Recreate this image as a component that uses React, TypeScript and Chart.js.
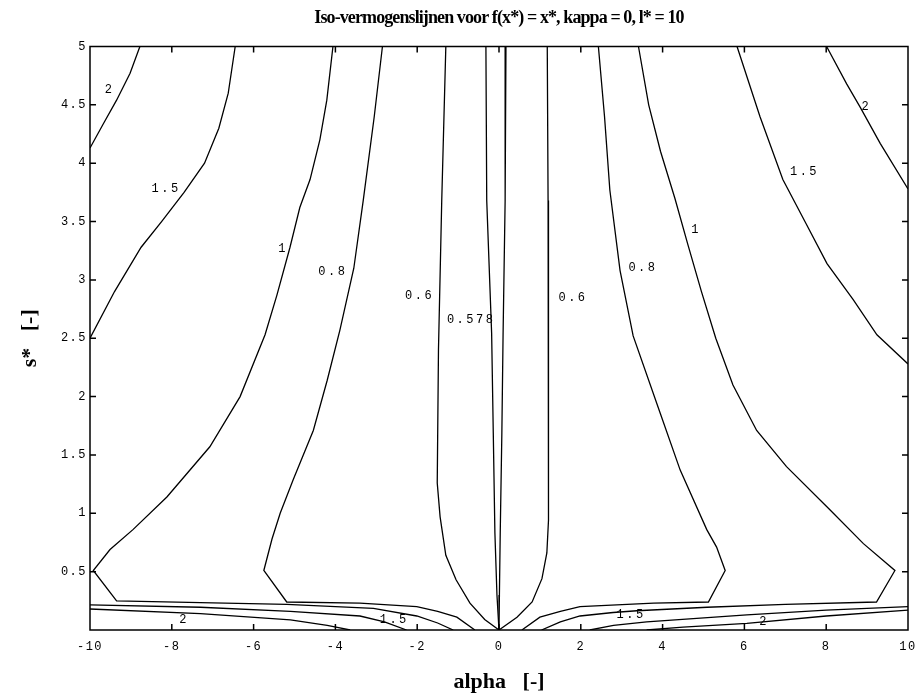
import React, { useEffect, useRef } from 'react';
import { Chart, registerables } from 'chart.js';

Chart.register(...registerables);

// ---- text ----
const TITLE = 'Iso-vermogenslijnen voor f(x*) = x*, kappa = 0, l* = 10';
const X_LABEL = 'alpha   [-]';
const Y_LABEL = 's*   [-]';

// ---- axes ----
const X_MIN = -10;
const X_MAX = 10;
const X_STEP = 2;
const Y_MIN = 0;
const Y_MAX = 5;
const Y_STEP = 0.5;

// ---- contour lines (alpha, s*) ----
const L2_TOP_X = [-8.78, -9.02, -9.35, -9.67, -10.0];
const L2_TOP_Y = [5.0, 4.77, 4.54, 4.34, 4.13];

const L15_TOP_X = [-6.45, -6.62, -6.85, -7.2, -7.7, -8.25, -8.75, -9.4, -10.0];
const L15_TOP_Y = [5.0, 4.6, 4.3, 4.0, 3.75, 3.5, 3.28, 2.9, 2.5];

const L1_X = [-4.06, -4.21, -4.38, -4.62, -4.87, -5.11, -5.43, -5.72, -6.33, -7.07, -8.12, -8.95, -9.51, -9.92, -9.35, -7.3, -5.19, -3.07, -2.01, -1.5, -1.12];
const L1_Y = [5.0, 4.54, 4.2, 3.86, 3.62, 3.28, 2.87, 2.53, 2.0, 1.57, 1.14, 0.86, 0.69, 0.51, 0.25, 0.235, 0.22, 0.185, 0.12, 0.06, 0.0];

const L08_X = [-2.85, -3.05, -3.32, -3.55, -3.89, -4.2, -4.54, -5.03, -5.35, -5.55, -5.75, -5.19, -3.4, -2.01, -1.5, -1.03, -0.59];
const L08_Y = [5.0, 4.4, 3.68, 3.1, 2.57, 2.14, 1.71, 1.29, 1.0, 0.78, 0.51, 0.24, 0.23, 0.2, 0.16, 0.11, 0.0];

const L06_X = [-1.3, -1.4, -1.48, -1.51, -1.44, -1.3, -1.05, -0.71, -0.35, 0.0];
const L06_Y = [5.0, 3.68, 2.4, 1.26, 0.97, 0.64, 0.43, 0.23, 0.09, 0.0];

const L0578_X = [-0.32, -0.3, -0.18, -0.14, -0.1, -0.05, 0.0];
const L0578_Y = [5.0, 3.68, 2.54, 1.69, 0.83, 0.3, 0.0];

const R0578_X = [0.17, 0.15, 0.1, 0.07, 0.03, 0.01, 0.0];
const R0578_Y = [5.0, 3.68, 2.54, 1.69, 0.83, 0.3, 0.0];

const R06_X = [1.18, 1.2, 1.21, 1.21, 1.17, 1.05, 0.81, 0.44, 0.0];
const R06_Y = [5.0, 3.68, 2.0, 0.94, 0.66, 0.44, 0.24, 0.11, 0.0];

const R08_X = [2.43, 2.58, 2.71, 2.96, 3.28, 3.94, 4.43, 5.08, 5.32, 5.53, 5.12, 3.78, 1.98, 1.5, 1.0, 0.56];
const R08_Y = [5.0, 4.4, 3.77, 3.08, 2.52, 1.86, 1.37, 0.86, 0.71, 0.51, 0.24, 0.23, 0.2, 0.16, 0.11, 0.0];

const R1_X = [3.41, 3.66, 3.95, 4.3, 4.62, 4.95, 5.3, 5.72, 6.3, 7.03, 8.09, 8.91, 9.68, 9.23, 7.0, 5.09, 3.37, 2.79, 1.98, 1.5, 1.04];
const R1_Y = [5.0, 4.5, 4.1, 3.7, 3.3, 2.9, 2.5, 2.1, 1.71, 1.4, 1.03, 0.74, 0.51, 0.24, 0.22, 0.195, 0.165, 0.15, 0.12, 0.07, 0.0];

const R15_TOP_X = [5.82, 6.1, 6.38, 6.94, 7.48, 8.02, 8.66, 9.24, 10.0];
const R15_TOP_Y = [5.0, 4.7, 4.4, 3.86, 3.5, 3.14, 2.83, 2.53, 2.28];

const R2_TOP_X = [8.01, 8.5, 8.83, 9.32, 10.0];
const R2_TOP_Y = [5.0, 4.68, 4.48, 4.17, 3.78];

const L15_BOT_X = [-10.0, -7.3, -5.1, -3.4, -2.8, -2.26];
const L15_BOT_Y = [0.215, 0.195, 0.16, 0.12, 0.07, 0.0];

const L2_BOT_X = [-10.0, -7.3, -5.1, -4.2, -3.64];
const L2_BOT_Y = [0.18, 0.14, 0.086, 0.04, 0.0];

const R15_BOT_X = [2.22, 2.8, 3.61, 6.06, 8.0, 10.0];
const R15_BOT_Y = [0.0, 0.04, 0.07, 0.13, 0.17, 0.2];

const R2_BOT_X = [3.61, 4.5, 6.06, 8.0, 10.0];
const R2_BOT_Y = [0.0, 0.025, 0.057, 0.12, 0.17];

// ---- contour labels ----
const CLABEL_TEXT = ['2', '1.5', '1', '0.8', '0.6', '0.578', '0.6', '0.8', '1', '1.5', '2', '2', '1.5', '1.5', '2'];
const CLABEL_X = [-9.55, -8.17, -5.31, -4.09, -1.97, -0.71, 1.78, 3.49, 4.79, 7.44, 8.95, -7.73, -2.59, 3.2, 6.45];
const CLABEL_Y = [4.63, 3.78, 3.27, 3.07, 2.86, 2.66, 2.85, 3.1, 3.43, 3.93, 4.48, 0.086, 0.086, 0.13, 0.07];

const LINES: number[][][] = [
  [L2_TOP_X, L2_TOP_Y],
  [L15_TOP_X, L15_TOP_Y],
  [L1_X, L1_Y],
  [L08_X, L08_Y],
  [L06_X, L06_Y],
  [L0578_X, L0578_Y],
  [R0578_X, R0578_Y],
  [R06_X, R06_Y],
  [R08_X, R08_Y],
  [R1_X, R1_Y],
  [R15_TOP_X, R15_TOP_Y],
  [R2_TOP_X, R2_TOP_Y],
  [L15_BOT_X, L15_BOT_Y],
  [L2_BOT_X, L2_BOT_Y],
  [R15_BOT_X, R15_BOT_Y],
  [R2_BOT_X, R2_BOT_Y],
];

const MONO = '"Liberation Mono", "DejaVu Sans Mono", monospace';
const SERIF = '"Liberation Serif", "DejaVu Serif", serif';

const spacingPlugin = {
  id: 'textSpacing',
  beforeDraw(chart: any) {
    for (const id of ['x', 'y']) {
      const s: any = chart.scales[id];
      if (s && !s.__spaced) {
        const orig = s.drawLabels;
        s.drawLabels = function (area: any) {
          const c = this.ctx;
          c.save();
          c.letterSpacing = '1.5px';
          orig.call(this, area);
          c.restore();
        };
        s.__spaced = true;
      }
    }
    const tb: any = chart.titleBlock;
    if (tb && !tb.__spaced) {
      const o = tb.draw;
      tb.draw = function (...args: any[]) {
        const c = this.ctx;
        c.save();
        c.letterSpacing = '-0.9px';
        o.apply(this, args);
        c.restore();
      };
      tb.__spaced = true;
    }
  },
};

const framePlugin = {
  id: 'frame',
  afterDatasetsDraw(chart: any) {
    const { ctx, chartArea: a, scales } = chart;
    ctx.save();
    ctx.strokeStyle = '#000';
    ctx.lineWidth = 1.5;
    ctx.strokeRect(a.left, a.top, a.right - a.left, a.bottom - a.top);
    const len = 6;
    ctx.beginPath();
    for (const t of scales.x.ticks) {
      if (t.value <= X_MIN || t.value >= X_MAX) continue;
      const px = scales.x.getPixelForValue(t.value);
      ctx.moveTo(px, a.bottom);
      ctx.lineTo(px, a.bottom - len);
      ctx.moveTo(px, a.top);
      ctx.lineTo(px, a.top + len);
    }
    for (const t of scales.y.ticks) {
      if (t.value <= Y_MIN || t.value >= Y_MAX) continue;
      const py = scales.y.getPixelForValue(t.value);
      ctx.moveTo(a.left, py);
      ctx.lineTo(a.left + len, py);
      ctx.moveTo(a.right, py);
      ctx.lineTo(a.right - len, py);
    }
    ctx.stroke();
    ctx.restore();
  },
};

const labelPlugin = {
  id: 'contourLabels',
  afterDatasetsDraw(chart: any) {
    const { ctx, scales } = chart;
    ctx.save();
    ctx.font = '12px ' + MONO;
    ctx.letterSpacing = '2.5px';
    ctx.fillStyle = '#000';
    ctx.textAlign = 'center';
    ctx.textBaseline = 'middle';
    CLABEL_TEXT.forEach((txt, i) => {
      const px = scales.x.getPixelForValue(CLABEL_X[i]);
      const py = scales.y.getPixelForValue(CLABEL_Y[i]);
      ctx.fillText(txt, px + 1.2, py);
    });
    ctx.restore();
  },
};

export default function App() {
  const ref = useRef<HTMLCanvasElement>(null);

  useEffect(() => {
    const datasets = LINES.map(([xs, ys]) => ({
      data: xs.map((x, i) => ({ x, y: ys[i] })),
      showLine: true,
      borderColor: '#000',
      borderWidth: 1.3,
      pointRadius: 0,
      pointHoverRadius: 0,
      fill: false,
      tension: 0,
    }));

    const chart = new Chart(ref.current as HTMLCanvasElement, {
      type: 'scatter',
      data: { datasets },
      options: {
        responsive: false,
        animation: false,
        events: [],
        layout: { padding: 0 },
        plugins: {
          legend: { display: false },
          tooltip: { enabled: false },
          title: {
            display: true,
            fullSize: false,
            text: TITLE,
            color: '#000',
            font: { family: SERIF, size: 18, weight: 'bold' },
            padding: { top: 8, bottom: 16.9 },
          },
        },
        scales: {
          x: {
            type: 'linear',
            min: X_MIN,
            max: X_MAX,
            grid: { display: false, drawTicks: false },
            border: { display: false },
            ticks: {
              stepSize: X_STEP,
              autoSkip: false,
              maxRotation: 0,
              color: '#000',
              padding: 10,
              font: { family: MONO, size: 12 },
            },
            title: {
              display: true,
              text: X_LABEL,
              color: '#000',
              font: { family: SERIF, size: 22, weight: 'bold' },
              padding: { top: 0, bottom: 0 },
            },
            afterFit: (s: any) => {
              s.height = 66;
              s.paddingLeft = 0;
              s.paddingRight = 11;
            },
          },
          y: {
            type: 'linear',
            min: Y_MIN,
            max: Y_MAX,
            grid: { display: false, drawTicks: false },
            border: { display: false },
            ticks: {
              stepSize: Y_STEP,
              autoSkip: false,
              color: '#000',
              padding: 3,
              font: { family: MONO, size: 12 },
              callback: (v: any) => (Number(v) === 0 ? '' : String(v)),
            },
            title: {
              display: true,
              text: Y_LABEL,
              color: '#000',
              font: { family: SERIF, size: 22, weight: 'bold' },
              padding: { top: 17, bottom: 0 },
            },
            afterFit: (s: any) => {
              s.width = 90;
              s.paddingTop = 0;
              s.paddingBottom = 0;
            },
          },
        },
      } as any,
      plugins: [spacingPlugin, framePlugin, labelPlugin],
    });
    return () => chart.destroy();
  }, []);

  return (
    <div style={{ position: 'absolute', left: 0, top: 0, width: 919, height: 696, background: '#fff' }}>
      <canvas ref={ref} width={919} height={696} style={{ display: 'block', width: 919, height: 696 }} />
    </div>
  );
}
